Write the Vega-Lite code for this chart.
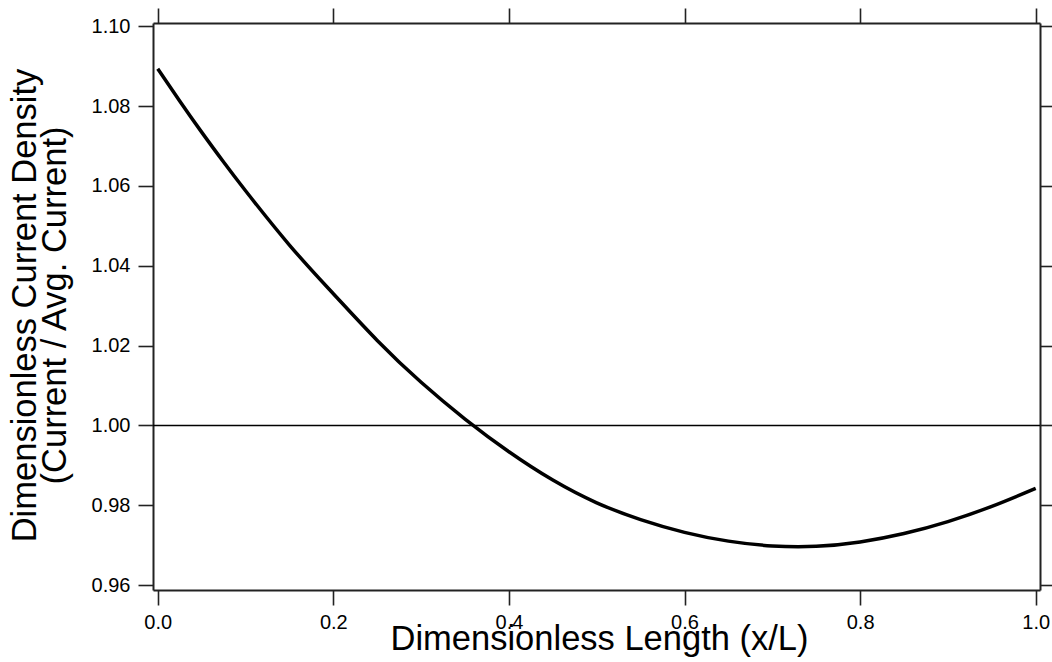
{
  "$schema": "https://vega.github.io/schema/vega-lite/v6.json",
  "width": 887,
  "height": 567,
  "autosize": "none",
  "padding": {"left": 153, "top": 23, "right": 12, "bottom": 72},
  "background": "white",
  "config": {
    "view": {"stroke": null},
    "axis": {
      "grid": false,
      "domainColor": "#222222",
      "domainWidth": 2,
      "tickColor": "#222222",
      "tickWidth": 1.6,
      "tickSize": 15,
      "labelFont": "Liberation Sans",
      "labelFontSize": 20,
      "labelColor": "#000000",
      "titleFont": "Liberation Sans",
      "titleFontWeight": "normal",
      "titleColor": "#000000"
    }
  },
  "datasets": {
    "profile": [
      {"x": 0.0, "j": 1.0894},
      {"x": 0.025, "j": 1.0813},
      {"x": 0.05, "j": 1.0735},
      {"x": 0.075, "j": 1.066},
      {"x": 0.1, "j": 1.0588},
      {"x": 0.15, "j": 1.0452},
      {"x": 0.2, "j": 1.033},
      {"x": 0.25, "j": 1.0213},
      {"x": 0.3, "j": 1.0108},
      {"x": 0.35, "j": 1.0016},
      {"x": 0.4, "j": 0.9934},
      {"x": 0.45, "j": 0.9863},
      {"x": 0.5, "j": 0.9806},
      {"x": 0.55, "j": 0.9764},
      {"x": 0.6, "j": 0.9732},
      {"x": 0.65, "j": 0.971},
      {"x": 0.7, "j": 0.9698},
      {"x": 0.75, "j": 0.9697},
      {"x": 0.8, "j": 0.9708},
      {"x": 0.85, "j": 0.9729},
      {"x": 0.9, "j": 0.9759},
      {"x": 0.95, "j": 0.9797},
      {"x": 1.0, "j": 0.9842}
    ],
    "average": [{"level": 1.0}]
  },
  "layer": [
    {
      "data": {"name": "average"},
      "mark": {"type": "rule", "color": "#000000", "strokeWidth": 1.5},
      "encoding": {
        "y": {
          "field": "level",
          "type": "quantitative",
          "scale": {"domain": [0.95875, 1.10085], "nice": false, "zero": false},
          "axis": {
            "orient": "right",
            "values": [0.96, 0.98, 1.0, 1.02, 1.04, 1.06, 1.08, 1.1],
            "labels": false,
            "title": null,
            "tickSize": 14
          }
        }
      }
    },
    {
      "data": {"name": "profile"},
      "mark": {"type": "line", "color": "#000000", "strokeWidth": 3.5, "interpolate": "natural"},
      "encoding": {
        "x": {
          "field": "x",
          "type": "quantitative",
          "scale": {"domain": [-0.0054, 1.0049], "nice": false, "zero": false},
          "axis": {
            "orient": "bottom",
            "values": [0, 0.2, 0.4, 0.6, 0.8, 1.0],
            "format": ".1f",
            "labelPadding": 7,
            "title": "Dimensionless Length (x/L)",
            "titleFontSize": 34.5,
            "titleAlign": "center",
            "titleBaseline": "alphabetic",
            "titleX": 446,
            "titleY": 59
          }
        },
        "y": {
          "field": "j",
          "type": "quantitative",
          "scale": {"domain": [0.95875, 1.10085], "nice": false, "zero": false},
          "axis": {
            "orient": "left",
            "values": [0.96, 0.98, 1.0, 1.02, 1.04, 1.06, 1.08, 1.1],
            "format": ".2f",
            "labelPadding": 8,
            "title": ["Dimensionless Current Density", "(Current / Avg. Current)"],
            "titleFontSize": 34.5,
            "titleAngle": -90,
            "titleAlign": "center",
            "titleBaseline": "alphabetic",
            "titleLineHeight": 30,
            "titleX": -118,
            "titleY": 282
          }
        }
      }
    },
    {
      "data": {"name": "profile"},
      "mark": {"type": "line", "strokeOpacity": 0},
      "encoding": {
        "x": {
          "field": "x",
          "type": "quantitative",
          "scale": {"domain": [-0.0054, 1.0049], "nice": false, "zero": false},
          "axis": {
            "orient": "top",
            "values": [0, 0.2, 0.4, 0.6, 0.8, 1.0],
            "labels": false,
            "title": null
          }
        },
        "y": {
          "field": "j",
          "type": "quantitative",
          "scale": {"domain": [0.95875, 1.10085], "nice": false, "zero": false},
          "axis": null
        }
      }
    }
  ],
  "resolve": {"axis": {"x": "independent", "y": "independent"}}
}
